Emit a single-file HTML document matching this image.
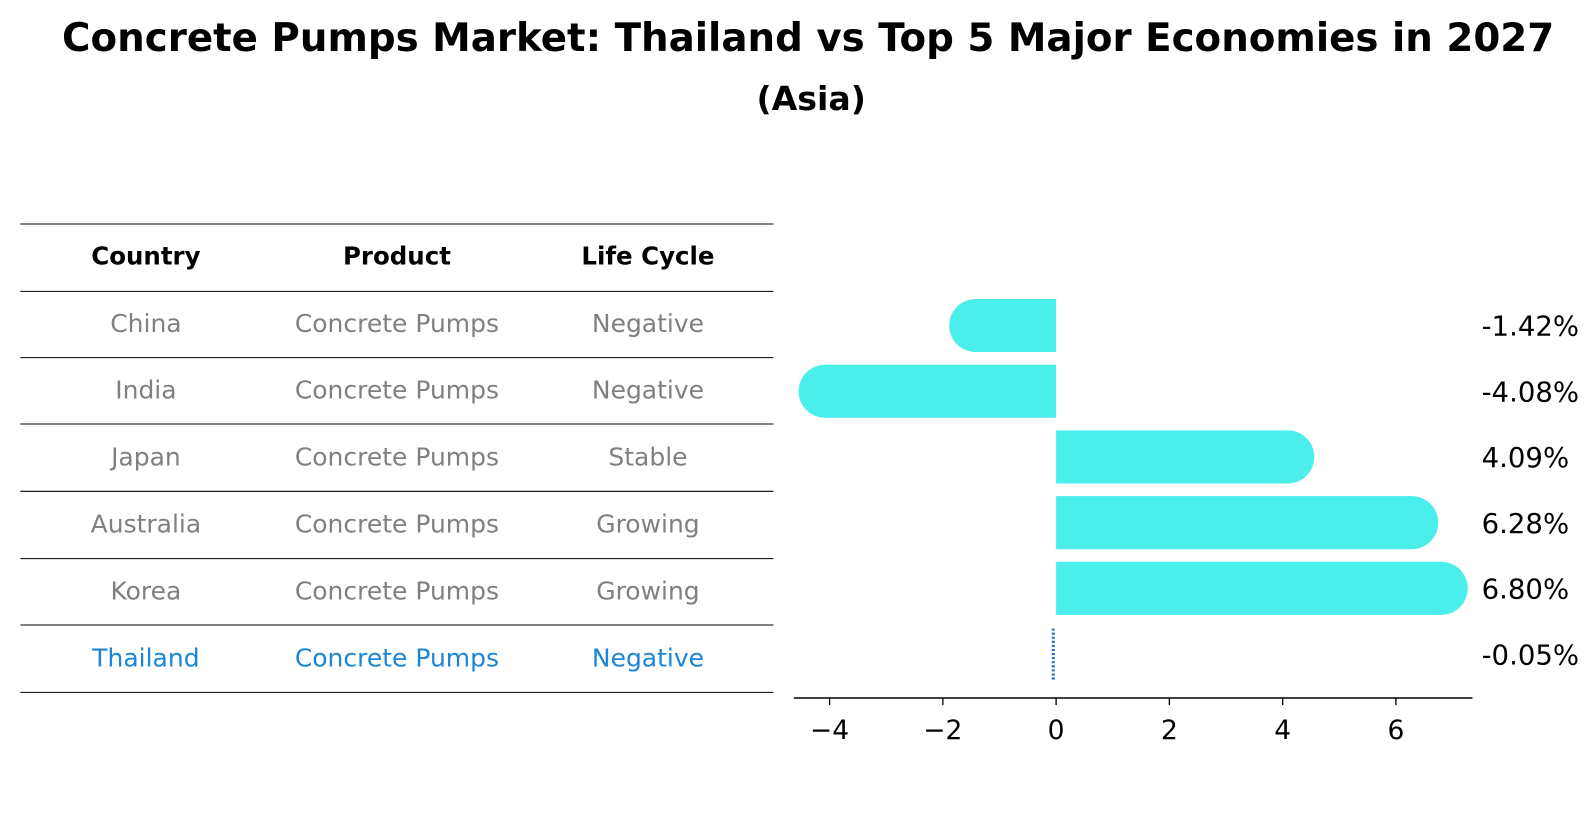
<!DOCTYPE html>
<html><head><meta charset="utf-8"><style>
body{margin:0;background:#fff;font-family:"Liberation Sans","DejaVu Sans",sans-serif;}
svg{display:block}
</style></head><body>
<svg width="1596" height="823" id="svg" font-family="DejaVu Sans, Liberation Sans, sans-serif">
<g transform="scale(1.0204)">
<text x="792" y="50" text-anchor="middle" font-size="38" font-weight="bold">Concrete Pumps Market: Thailand vs Top 5 Major Economies in 2027</text>
<text x="795" y="108" text-anchor="middle" font-size="32.5" font-weight="bold">(Asia)</text>
<g id="table"></g>
<g id="bars"></g>
</g>
</svg>
<script>
const countries=["China","India","Japan","Australia","Korea","Thailand"];
const lifeCycle=["Negative","Negative","Stable","Growing","Growing","Negative"];
const values=[-1.42,-4.08,4.09,6.28,6.80,-0.05];
const valueLabels=["-1.42%","-4.08%","4.09%","6.28%","6.80%","-0.05%"];
const ticks=[-4,-2,0,2,4,6];
const NS="http://www.w3.org/2000/svg";
function mk(p,t,a){const e=document.createElementNS(NS,t);for(const k in a)e.setAttribute(k,a[k]);p.appendChild(e);return e;}
const tbl=document.getElementById('table');
const lineYs=[219,285,350,415,481,547,612,678];
lineYs.forEach(y=>{const l=mk(tbl,'line',{x1:20,x2:758,y1:y+0.5,y2:y+0.5,stroke:'#000','stroke-width':1});

});
const cols=[143,389,635];
["Country","Product","Life Cycle"].forEach((h,i)=>{const t=mk(tbl,'text',{x:cols[i],y:259,'text-anchor':'middle','font-size':24,'font-weight':'bold'});t.textContent=h;

});
countries.forEach((c,r)=>{const y=(lineYs[r+1]+lineYs[r+2])/2+8;const col=r===5?'#1a86d9':'#808080';
[c,"Concrete Pumps",lifeCycle[r]].forEach((s,i)=>{const t=mk(tbl,'text',{x:cols[i],y:y,'text-anchor':'middle','font-size':24.5,fill:col});t.textContent=s;

});});
const g=document.getElementById('bars');
const x0=1035,ppu=55.5;const X=v=>x0+v*ppu;
const rowY=r=>319+r*64.4;const h=52,rad=26;
values.forEach((v,r)=>{const cy=rowY(r);
if(Math.abs(v)<0.5){const l=mk(g,'line',{x1:X(v),x2:X(v),y1:cy-25,y2:cy+25,stroke:'#1f6fc4','stroke-width':3,'stroke-dasharray':'2,2'});

}
else{const xa=Math.min(X(0),X(v)),xb=Math.max(X(0),X(v));
const b=mk(g,'rect',{x:xa,y:cy-h/2,width:xb-xa,height:h,fill:'#4aeeea'});


const c=mk(g,'circle',{cx:X(v),cy:cy,r:rad,fill:'#4aeeea'});

}
const t=mk(g,'text',{x:1452,y:cy+10,'font-size':27});t.textContent=valueLabels[r];

});
const ax=mk(g,'line',{x1:778,x2:1443,y1:684,y2:684,stroke:'#000','stroke-width':1.5});


ticks.forEach(v=>{const tk=mk(g,'line',{x1:X(v),x2:X(v),y1:684,y2:691,stroke:'#000','stroke-width':1.3});


const t=mk(g,'text',{x:X(v),y:724,'text-anchor':'middle','font-size':26});t.textContent=v<0?'\u2212'+Math.abs(v):String(v);

});
</script>
</body></html>
